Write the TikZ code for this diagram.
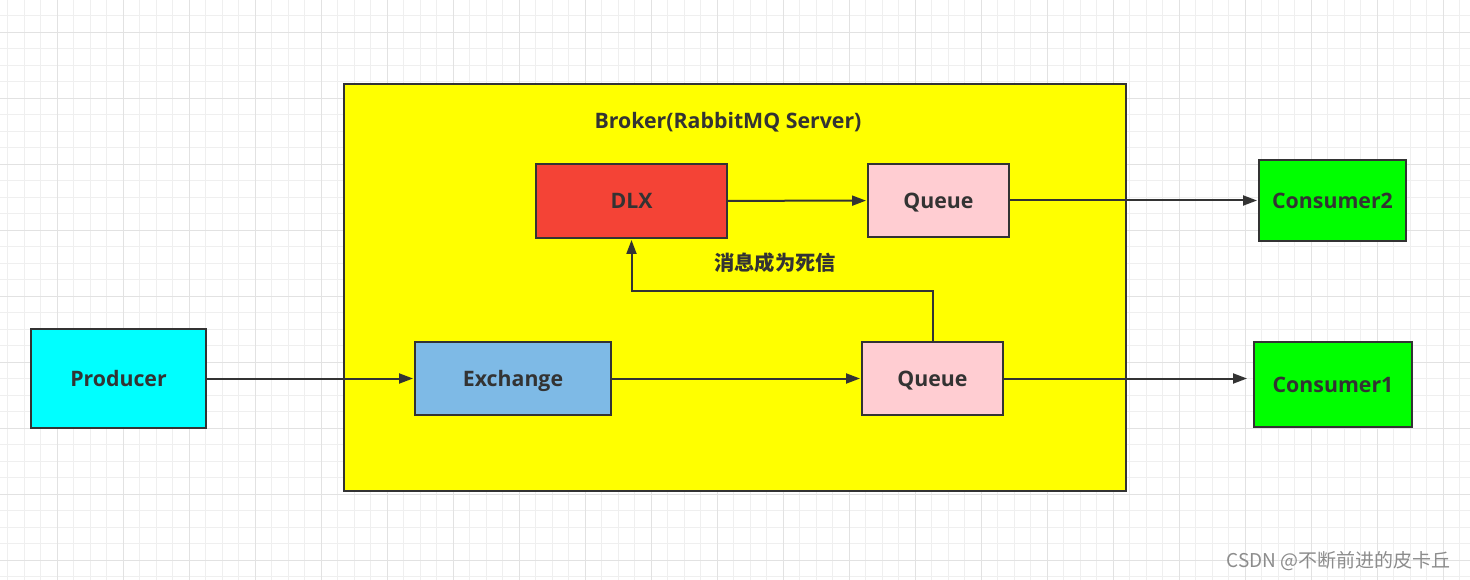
\documentclass[tikz,border=0pt]{standalone}
\usepackage{fontspec}
\setmainfont{Open Sans}
\newfontfamily\cjk{Noto Sans CJK SC}
\usetikzlibrary{arrows.meta,positioning}
\definecolor{ink}{HTML}{333333}
\definecolor{brokerfill}{HTML}{FFFF00}
\definecolor{dlxfill}{HTML}{F44336}
\definecolor{queuefill}{HTML}{FFCDD2}
\definecolor{exchfill}{HTML}{7EBAE6}
\definecolor{consfill}{HTML}{00FF00}
\definecolor{prodfill}{HTML}{00FFFF}
\definecolor{gridminor}{HTML}{EFEFEF}
\definecolor{gridmajor}{HTML}{E2E2E2}
\tikzset{box/.style={rectangle,draw=ink,line width=2pt,text=ink,font=\fontsize{21.3}{25}\selectfont\bfseries,inner sep=0pt,text height=15.2pt,text depth=0pt}}
\tikzset{broker/.style={box,fill=brokerfill}}
\tikzset{dlxbox/.style={box,fill=dlxfill,minimum width=191pt,minimum height=74pt}}
\tikzset{queuebox/.style={box,fill=queuefill,minimum width=141pt,minimum height=73pt}}
\tikzset{exchbox/.style={box,fill=exchfill,minimum width=196pt,minimum height=73pt}}
\tikzset{consbox/.style={box,fill=consfill}}
\tikzset{prodbox/.style={box,fill=prodfill,minimum width=175pt,minimum height=99pt}}
\tikzset{toArrow/.style={-{Triangle[length=14pt,width=10pt]},line width=2pt,draw=ink,shorten >=1pt}}

\begin{document}
\begin{tikzpicture}[x=1pt,y=-1pt]
\useasboundingbox (0,0) rectangle (1470,580);
\fill[white] (0,0) rectangle (1470,580);
% grid paper
\foreach \i in {0,...,88} \draw[gridminor,line width=1.2pt] ({7.8+16.5*\i},0) -- ++(0,580);
\foreach \j in {1,...,35} \draw[gridminor,line width=1.2pt] (0,{16.5*\j-0.7}) -- ++(1470,0);
\foreach \i in {0,...,21} \draw[gridmajor,line width=1.2pt] ({57.3+66*\i},0) -- ++(0,580);
\foreach \j in {0,...,8} \draw[gridmajor,line width=1.2pt] (0,{32.3+66*\j}) -- ++(1470,0);

\node (broker) [broker, minimum width=782pt, minimum height=407pt] at (735,287.5) {};
\node (brokerlabel) [text=ink, font=\fontsize{21.3}{25}\selectfont\bfseries, inner sep=0pt, text height=15.2pt, text depth=0pt] at (728,121) {Broker(RabbitMQ Server)};
\node (dlx) [dlxbox] at (631.5,201) {DLX};
\node (queue2) [queuebox] at (938.5,200.5) {Queue};
\node (consumer2) [consbox, minimum width=147pt, minimum height=81pt] at (1332.5,200.5) {Consumer2};
\node (producer) [prodbox] at (118.5,378.5) {Producer};
\node (exchange) [exchbox] at (513,378.5) {Exchange};
\node (queue1) [queuebox] at (932.5,378.5) {Queue};
\node (consumer1) [consbox, minimum width=158pt, minimum height=85pt] at (1333,384.5) {Consumer1};
\node (deadlabel) [text=ink, font=\cjk\fontsize{20.3}{24}\selectfont\bfseries] at (775,263) {消息成为死信};
\coordinate (bend) at (932.5,291);

\draw[toArrow] (producer) -- (exchange);
\draw[toArrow] (exchange) -- (queue1);
\draw[toArrow, shorten >=6pt] (queue1.east) -- (queue1.east -| consumer1.west);
\draw[toArrow] (queue1.north) -- (bend) -| (dlx.south);
\draw[toArrow] (dlx) -- (queue2);
\draw[toArrow] (queue2.east) -- (queue2.east -| consumer2.west);

\node (mark) [text=black!45, font=\cjk\fontsize{19}{22}\selectfont, anchor=east] at (1454,561) {CSDN @不断前进的皮卡丘};
\end{tikzpicture}
\end{document}
